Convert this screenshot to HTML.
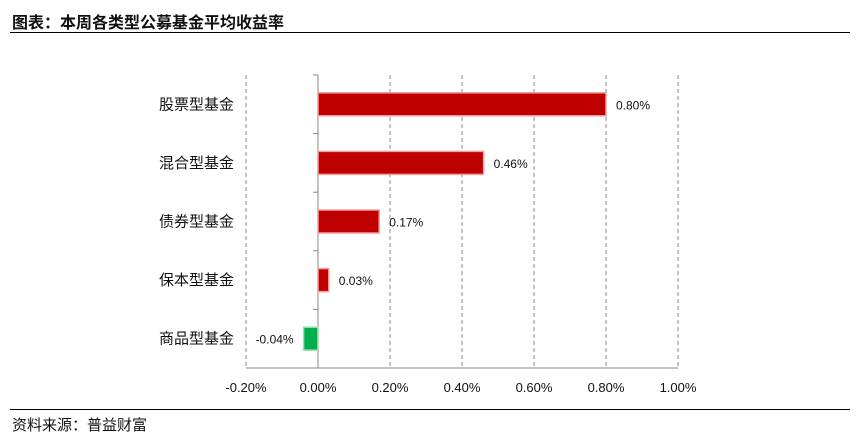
<!DOCTYPE html>
<html><head><meta charset="utf-8">
<style>
body{margin:0;background:#fff;font-family:"Liberation Sans","Noto Sans CJK SC",sans-serif;}
#wrap{position:relative;width:857px;height:448px;overflow:hidden;}
.title{position:absolute;left:12px;top:9px;font-size:16px;font-weight:bold;color:#111;}
.src{position:absolute;left:12px;top:414px;font-size:15px;color:#111;}
.hl{position:absolute;left:10px;width:840px;height:1px;background:#000;}
</style></head><body>
<div id="wrap">
<div class="title">图表：本周各类型公募基金平均收益率</div>
<div class="hl" style="top:32px"></div>
<svg id="chart" width="857" height="448" style="position:absolute;left:0;top:0"></svg>
<div class="hl" style="top:409px"></div>
<div class="src">资料来源：普益财富</div>
</div>
<script>
const categories=["股票型基金","混合型基金","债券型基金","保本型基金","商品型基金"];
const values=[0.80,0.46,0.17,0.03,-0.04];
const valueLabels=["0.80%","0.46%","0.17%","0.03%","-0.04%"];
const ticks=[-0.2,0,0.2,0.4,0.6,0.8,1.0];
const tickLabels=["-0.20%","0.00%","0.20%","0.40%","0.60%","0.80%","1.00%"];
const NS="http://www.w3.org/2000/svg";
const svg=document.getElementById('chart');
const top0=75,bottom0=368;
const x=v=>318+(v)*360;
const band=(bottom0-top0)/categories.length;
const y=i=>top0+band*i+band/2;
function mk(t,a){const e=document.createElementNS(NS,t);for(const k in a)e.setAttribute(k,a[k]);svg.appendChild(e);return e;}
ticks.forEach((t,i)=>{
  if(t!==0){const g=mk('line',{x1:x(t),x2:x(t),y1:top0,y2:bottom0,stroke:'#888','stroke-dasharray':'4,3','stroke-width':1});
  
  }
  const tl=mk('text',{x:x(t),y:392,'text-anchor':'middle','font-size':13,fill:'#111','font-family':'Liberation Sans, sans-serif'});
  tl.textContent=tickLabels[i];
  
  
});
const xa=mk('line',{x1:x(-0.2),x2:x(1.0),y1:bottom0,y2:bottom0,stroke:'#888'});


const ya=mk('line',{x1:x(0),x2:x(0),y1:top0,y2:bottom0,stroke:'#888'});


for(let i=0;i<=categories.length;i++){const tk=mk('line',{x1:x(0)-5,x2:x(0),y1:top0+band*i,y2:top0+band*i,stroke:'#888'});

}
categories.forEach((c,i)=>{
  const v=values[i],cy=y(i);
  const lbl=mk('text',{x:234,y:cy+5,'text-anchor':'end','font-size':15,fill:'#111'});
  lbl.textContent=c;
  
  
  const x0=Math.min(x(0),x(v)),w=Math.abs(x(v)-x(0));
  const col=v>=0?'#C00000':'#00B050',st=v>=0?'#f0a0a0':'#a0e0b0';
  const b=mk('rect',{x:x0,y:cy-11.5,width:w,height:23,fill:col,stroke:st,'stroke-width':1.5});
  
  
  const vl=mk('text',{x:v>=0?x(v)+10:x(v)-10,y:cy+5,'text-anchor':v>=0?'start':'end','font-size':12,fill:'#111','font-family':'Liberation Sans, sans-serif'});
  vl.textContent=valueLabels[i];
  
  
});
</script>
</body></html>
